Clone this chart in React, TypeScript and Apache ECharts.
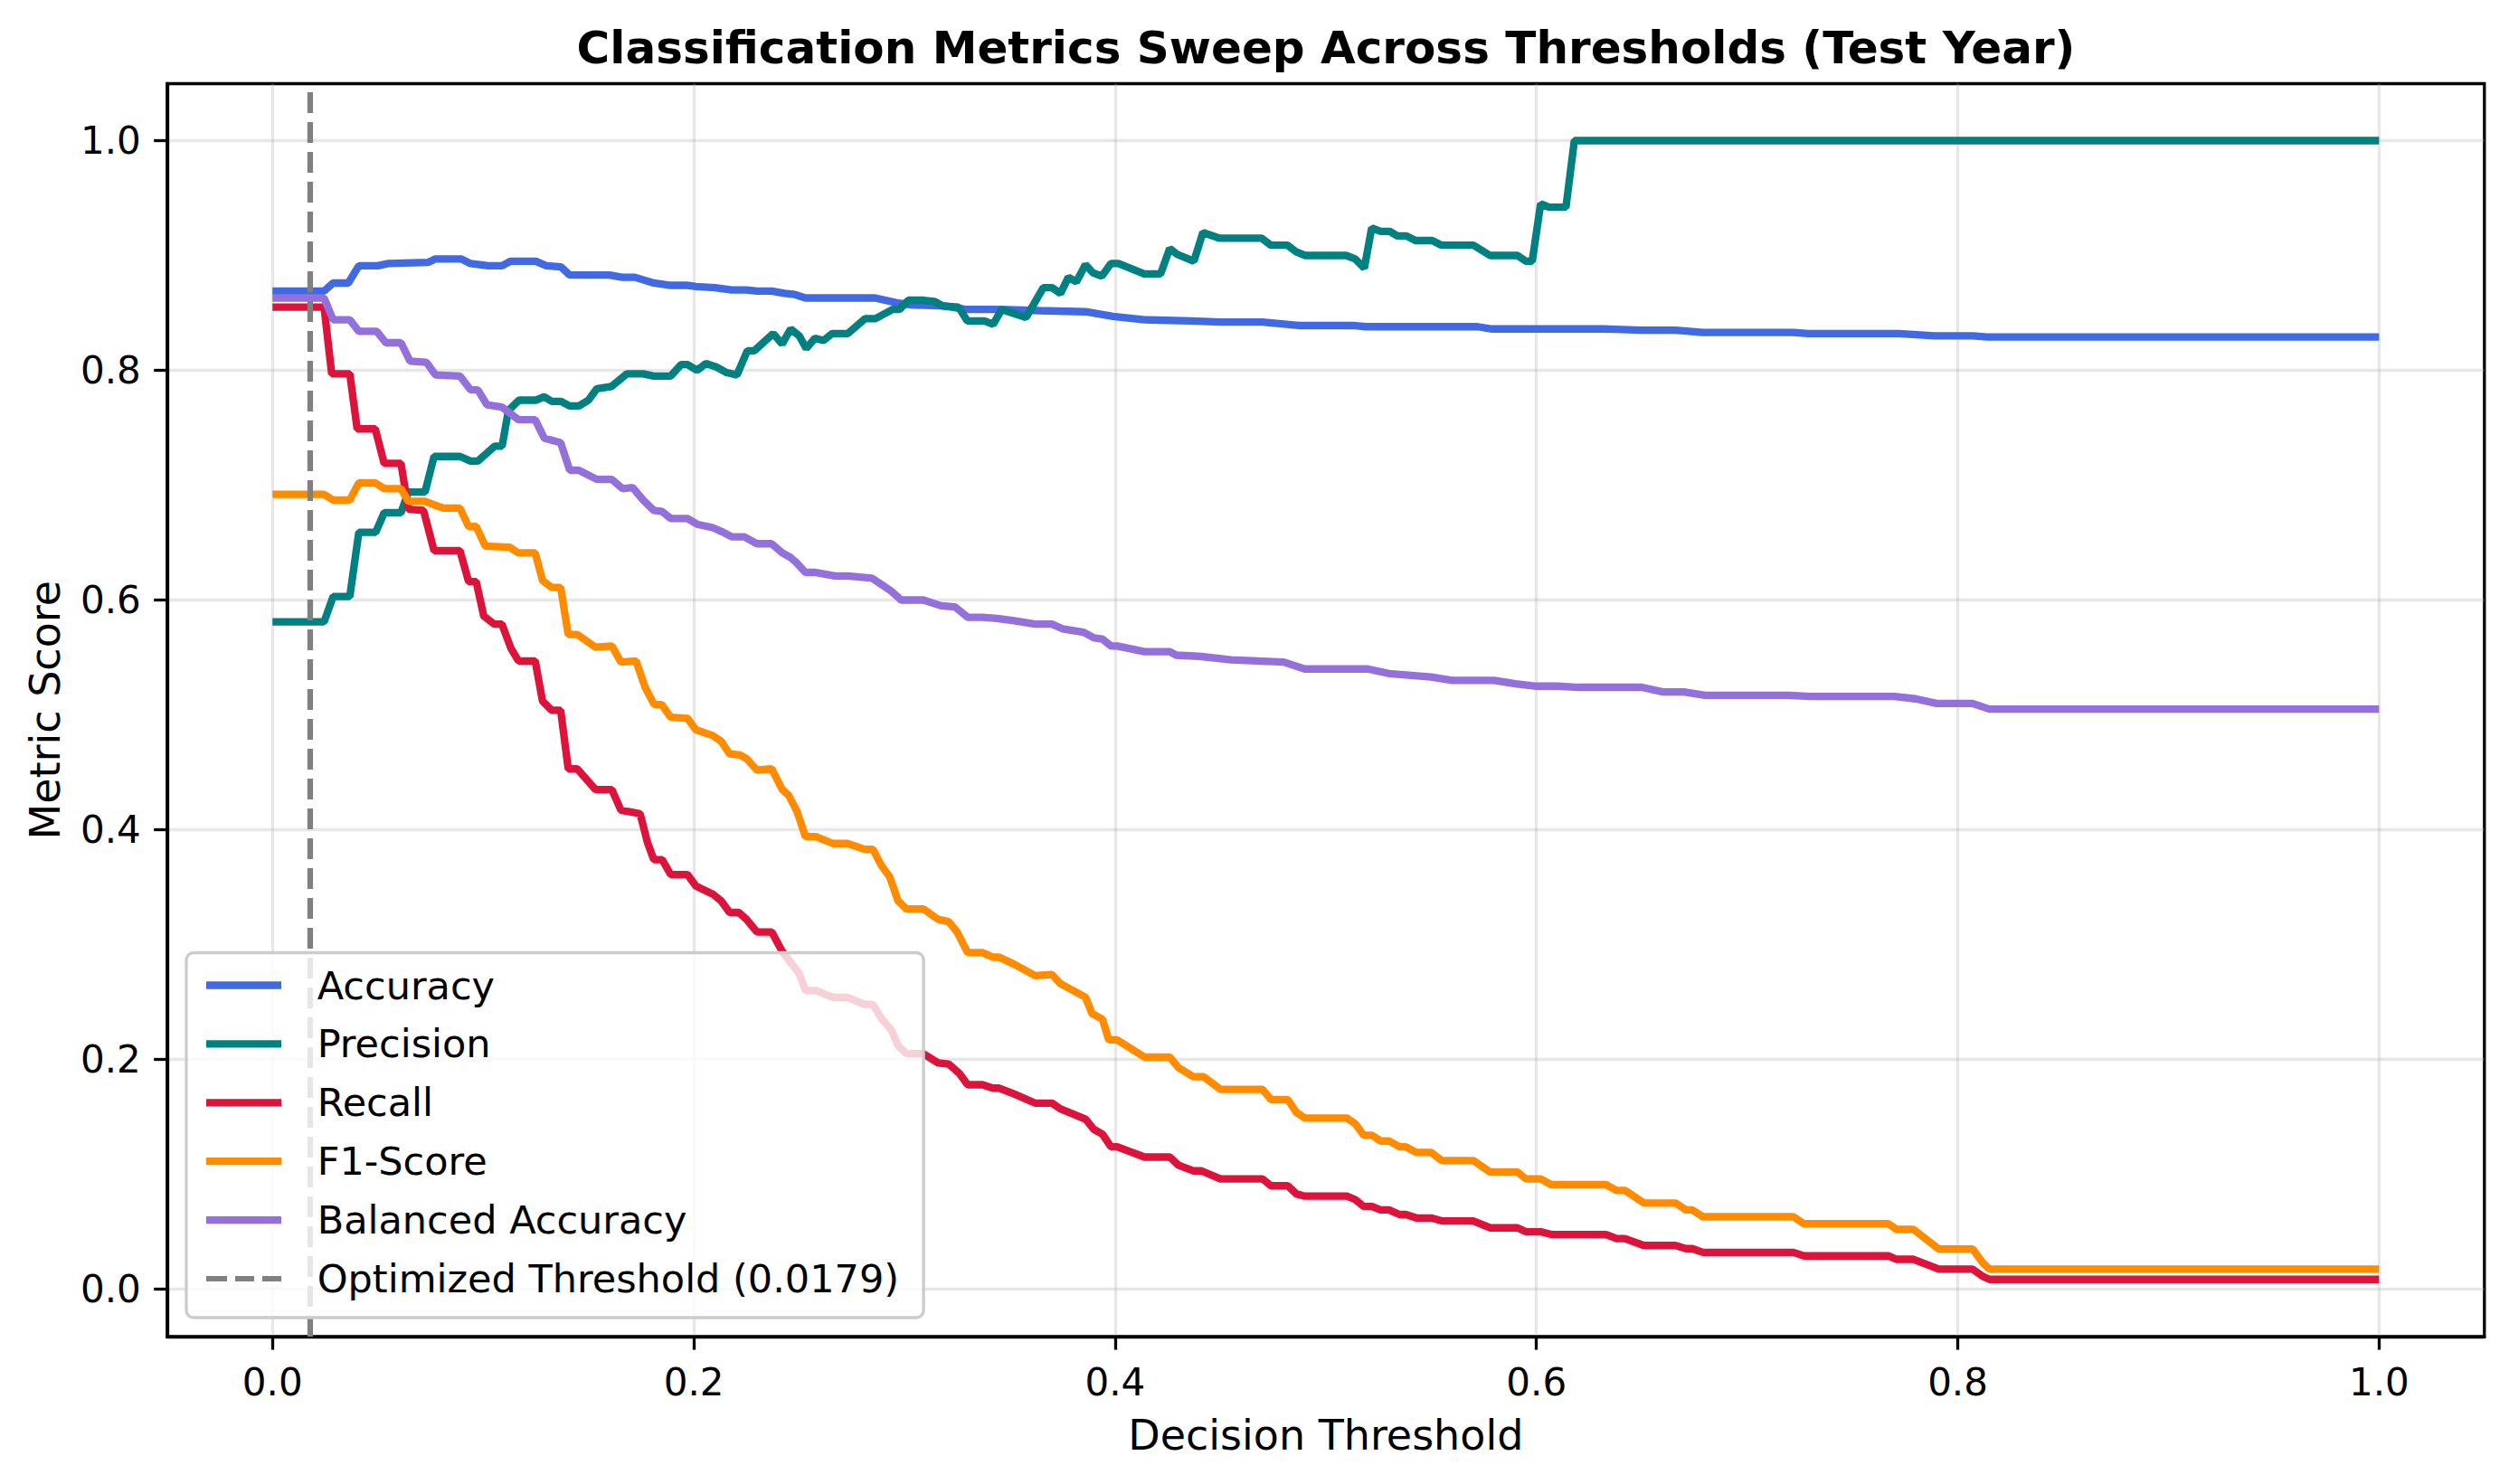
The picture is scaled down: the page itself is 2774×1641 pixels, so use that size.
import React, { useEffect, useRef } from 'react';
import * as echarts from 'echarts';

// ---- Data (threshold, score) ----
const accuracyPts: [number, number][] = [
  [0, 0.869], [0.0245, 0.869], [0.0288, 0.876], [0.036, 0.876], [0.041, 0.891], [0.05, 0.891],
  [0.055, 0.893], [0.074, 0.894], [0.0774, 0.897], [0.0895, 0.897], [0.094, 0.893], [0.1025, 0.891],
  [0.109, 0.891], [0.113, 0.895], [0.125, 0.895], [0.13, 0.891], [0.137, 0.89], [0.141, 0.883],
  [0.16, 0.883], [0.166, 0.881], [0.172, 0.881], [0.181, 0.876], [0.189, 0.874], [0.197, 0.874],
  [0.201, 0.873], [0.21, 0.872], [0.218, 0.87], [0.225, 0.87], [0.23, 0.869], [0.237, 0.869],
  [0.243, 0.867], [0.248, 0.866], [0.253, 0.863], [0.286, 0.863], [0.296, 0.859], [0.303, 0.857],
  [0.319, 0.856], [0.329, 0.853], [0.345, 0.853], [0.364, 0.852], [0.386, 0.851], [0.399, 0.847],
  [0.414, 0.844], [0.436, 0.843], [0.45, 0.842], [0.47, 0.842], [0.487, 0.839], [0.513, 0.839],
  [0.519, 0.838], [0.572, 0.838], [0.579, 0.836], [0.632, 0.836], [0.65, 0.835], [0.666, 0.835],
  [0.679, 0.833], [0.722, 0.833], [0.729, 0.832], [0.772, 0.832], [0.789, 0.83], [0.807, 0.83],
  [0.814, 0.829], [1.0, 0.829],
];

const precisionPts: [number, number][] = [
  [0, 0.581], [0.0245, 0.581], [0.0288, 0.603], [0.0367, 0.603], [0.041, 0.659], [0.049, 0.659],
  [0.053, 0.676], [0.061, 0.676], [0.0645, 0.694], [0.0724, 0.694], [0.0767, 0.725], [0.089, 0.725],
  [0.094, 0.721], [0.0975, 0.721], [0.1055, 0.734], [0.109, 0.734], [0.112, 0.765], [0.117, 0.774],
  [0.125, 0.774], [0.129, 0.777], [0.1325, 0.773], [0.137, 0.773], [0.141, 0.769], [0.1455, 0.769],
  [0.15, 0.774], [0.154, 0.784], [0.161, 0.786], [0.1683, 0.797], [0.176, 0.797], [0.181, 0.795],
  [0.189, 0.795], [0.194, 0.805], [0.197, 0.805], [0.2016, 0.8], [0.2057, 0.806], [0.2106, 0.803],
  [0.2156, 0.798], [0.2205, 0.796], [0.2254, 0.817], [0.2287, 0.817], [0.2377, 0.832], [0.2419, 0.823],
  [0.246, 0.836], [0.2501, 0.83], [0.2534, 0.819], [0.2575, 0.828], [0.2616, 0.826], [0.2657, 0.832],
  [0.2731, 0.832], [0.2813, 0.845], [0.2862, 0.845], [0.2944, 0.853], [0.2977, 0.853], [0.3018, 0.861],
  [0.3092, 0.861], [0.3142, 0.86], [0.3183, 0.856], [0.3257, 0.855], [0.3298, 0.843], [0.338, 0.843],
  [0.3421, 0.84], [0.3462, 0.853], [0.3577, 0.846], [0.3659, 0.872], [0.37, 0.872], [0.3741, 0.867],
  [0.3778, 0.881], [0.3816, 0.877], [0.3859, 0.892], [0.3894, 0.885], [0.3937, 0.882], [0.398, 0.893],
  [0.4016, 0.893], [0.4138, 0.884], [0.4216, 0.884], [0.4259, 0.906], [0.4295, 0.901], [0.4374, 0.895],
  [0.4417, 0.92], [0.4496, 0.915], [0.4696, 0.915], [0.4739, 0.909], [0.4818, 0.909], [0.4861, 0.903],
  [0.4903, 0.9], [0.5097, 0.9], [0.514, 0.897], [0.5183, 0.889], [0.5218, 0.924], [0.5261, 0.921],
  [0.5304, 0.921], [0.534, 0.917], [0.5383, 0.917], [0.5426, 0.913], [0.5505, 0.913], [0.5548, 0.909],
  [0.57, 0.909], [0.578, 0.9], [0.591, 0.9], [0.595, 0.895], [0.598, 0.895], [0.602, 0.945],
  [0.606, 0.942], [0.614, 0.942], [0.618, 1.0], [1.0, 1.0],
];

const recallPts: [number, number][] = [
  [0, 0.855], [0.0245, 0.855], [0.0281, 0.797], [0.0367, 0.797], [0.0402, 0.749], [0.0488, 0.749],
  [0.053, 0.719], [0.061, 0.719], [0.0645, 0.679], [0.0717, 0.678], [0.0767, 0.643], [0.089, 0.643],
  [0.0931, 0.616], [0.0967, 0.616], [0.1003, 0.586], [0.1053, 0.579], [0.1089, 0.579], [0.1132, 0.558],
  [0.1168, 0.547], [0.1247, 0.547], [0.1282, 0.512], [0.1325, 0.504], [0.1368, 0.504], [0.1404, 0.453],
  [0.1447, 0.453], [0.1533, 0.435], [0.1611, 0.435], [0.1654, 0.417], [0.1745, 0.414], [0.178, 0.389],
  [0.181, 0.374], [0.185, 0.374], [0.189, 0.361], [0.197, 0.361], [0.201, 0.351], [0.209, 0.344],
  [0.213, 0.338], [0.217, 0.328], [0.2213, 0.328], [0.225, 0.322], [0.23, 0.311], [0.237, 0.311],
  [0.242, 0.294], [0.247, 0.282], [0.25, 0.275], [0.253, 0.26], [0.258, 0.26], [0.266, 0.254],
  [0.273, 0.254], [0.281, 0.248], [0.285, 0.248], [0.289, 0.236], [0.294, 0.225], [0.297, 0.212],
  [0.301, 0.205], [0.309, 0.205], [0.316, 0.197], [0.321, 0.196], [0.326, 0.188], [0.33, 0.178],
  [0.337, 0.178], [0.342, 0.175], [0.345, 0.175], [0.352, 0.17], [0.362, 0.162], [0.37, 0.162],
  [0.374, 0.157], [0.386, 0.148], [0.39, 0.139], [0.394, 0.135], [0.398, 0.124], [0.401, 0.124],
  [0.414, 0.115], [0.426, 0.115], [0.43, 0.108], [0.437, 0.103], [0.441, 0.103], [0.45, 0.096],
  [0.47, 0.096], [0.474, 0.09], [0.482, 0.09], [0.486, 0.083], [0.49, 0.081], [0.51, 0.081],
  [0.514, 0.078], [0.518, 0.072], [0.522, 0.072], [0.526, 0.069], [0.53, 0.069], [0.535, 0.065],
  [0.538, 0.065], [0.543, 0.062], [0.55, 0.062], [0.555, 0.0595], [0.57, 0.0594], [0.578, 0.0534],
  [0.591, 0.0534], [0.595, 0.05], [0.602, 0.05], [0.607, 0.0476], [0.633, 0.0476], [0.638, 0.044],
  [0.642, 0.044], [0.651, 0.038], [0.666, 0.038], [0.671, 0.0353], [0.674, 0.0353], [0.679, 0.032],
  [0.722, 0.032], [0.727, 0.029], [0.767, 0.029], [0.771, 0.026], [0.779, 0.026], [0.791, 0.0175],
  [0.807, 0.0175], [0.812, 0.011], [0.815, 0.0085], [1.0, 0.0085],
];

const f1Pts: [number, number][] = [
  [0, 0.692], [0.0245, 0.692], [0.0288, 0.687], [0.0367, 0.687], [0.041, 0.702], [0.0488, 0.702],
  [0.053, 0.697], [0.061, 0.697], [0.0645, 0.686], [0.0724, 0.686], [0.081, 0.68], [0.089, 0.68],
  [0.0931, 0.664], [0.0967, 0.664], [0.101, 0.647], [0.1125, 0.646], [0.1168, 0.641], [0.1247, 0.641],
  [0.1282, 0.617], [0.1325, 0.611], [0.1368, 0.611], [0.1404, 0.57], [0.1447, 0.57], [0.1533, 0.559],
  [0.1611, 0.56], [0.1654, 0.546], [0.1726, 0.547], [0.1769, 0.524], [0.1812, 0.509], [0.1848, 0.509],
  [0.189, 0.498], [0.197, 0.497], [0.201, 0.487], [0.209, 0.482], [0.213, 0.477], [0.217, 0.466],
  [0.222, 0.465], [0.225, 0.462], [0.23, 0.452], [0.237, 0.453], [0.242, 0.435], [0.245, 0.43],
  [0.249, 0.416], [0.253, 0.394], [0.258, 0.394], [0.266, 0.388], [0.273, 0.388], [0.281, 0.383],
  [0.285, 0.383], [0.289, 0.369], [0.293, 0.359], [0.297, 0.338], [0.301, 0.331], [0.309, 0.331],
  [0.316, 0.322], [0.321, 0.32], [0.325, 0.311], [0.33, 0.293], [0.337, 0.293], [0.342, 0.289],
  [0.345, 0.289], [0.352, 0.283], [0.362, 0.273], [0.37, 0.274], [0.374, 0.266], [0.386, 0.254],
  [0.389, 0.24], [0.394, 0.235], [0.397, 0.217], [0.401, 0.217], [0.414, 0.202], [0.426, 0.202],
  [0.43, 0.193], [0.437, 0.185], [0.442, 0.185], [0.45, 0.174], [0.47, 0.174], [0.474, 0.165],
  [0.482, 0.165], [0.486, 0.154], [0.49, 0.149], [0.51, 0.149], [0.514, 0.144], [0.518, 0.134],
  [0.522, 0.134], [0.526, 0.129], [0.53, 0.129], [0.535, 0.124], [0.538, 0.124], [0.543, 0.119],
  [0.55, 0.119], [0.555, 0.112], [0.57, 0.112], [0.578, 0.102], [0.591, 0.102], [0.595, 0.096],
  [0.602, 0.096], [0.607, 0.091], [0.633, 0.091], [0.638, 0.086], [0.642, 0.086], [0.651, 0.075],
  [0.666, 0.075], [0.671, 0.069], [0.674, 0.069], [0.679, 0.063], [0.722, 0.063], [0.727, 0.057],
  [0.767, 0.057], [0.771, 0.052], [0.779, 0.052], [0.791, 0.035], [0.807, 0.035], [0.812, 0.0227],
  [0.815, 0.0175], [1.0, 0.0175],
];

const balancedPts: [number, number][] = [
  [0, 0.863], [0.0245, 0.863], [0.0288, 0.844], [0.0367, 0.844], [0.041, 0.834], [0.0495, 0.834],
  [0.0538, 0.824], [0.061, 0.824], [0.0653, 0.808], [0.0731, 0.807], [0.0774, 0.796], [0.089, 0.795],
  [0.094, 0.783], [0.0975, 0.783], [0.1018, 0.77], [0.1089, 0.768], [0.1168, 0.757], [0.1247, 0.757],
  [0.129, 0.741], [0.1368, 0.737], [0.1411, 0.713], [0.1454, 0.713], [0.154, 0.705], [0.1611, 0.705],
  [0.1662, 0.697], [0.171, 0.698], [0.176, 0.687], [0.181, 0.678], [0.185, 0.677], [0.189, 0.671],
  [0.197, 0.671], [0.2016, 0.666], [0.209, 0.663], [0.214, 0.659], [0.218, 0.655], [0.224, 0.655],
  [0.23, 0.649], [0.237, 0.649], [0.242, 0.641], [0.246, 0.637], [0.2485, 0.633], [0.253, 0.624],
  [0.258, 0.624], [0.267, 0.621], [0.273, 0.621], [0.2846, 0.619], [0.2895, 0.613], [0.2936, 0.608],
  [0.2985, 0.6], [0.309, 0.6], [0.3174, 0.595], [0.324, 0.594], [0.33, 0.585], [0.337, 0.585],
  [0.344, 0.584], [0.352, 0.582], [0.362, 0.579], [0.37, 0.579], [0.375, 0.575], [0.385, 0.572],
  [0.39, 0.567], [0.394, 0.566], [0.398, 0.56], [0.401, 0.56], [0.414, 0.555], [0.426, 0.555],
  [0.429, 0.552], [0.44, 0.551], [0.455, 0.548], [0.48, 0.546], [0.49, 0.54], [0.52, 0.54],
  [0.53, 0.536], [0.55, 0.533], [0.56, 0.53], [0.58, 0.53], [0.59, 0.527], [0.6, 0.525],
  [0.61, 0.525], [0.62, 0.524], [0.65, 0.524], [0.66, 0.52], [0.67, 0.52], [0.68, 0.517],
  [0.72, 0.517], [0.73, 0.516], [0.77, 0.516], [0.78, 0.514], [0.79, 0.51], [0.807, 0.51],
  [0.815, 0.505], [1.0, 0.505],
];

const optimizedThreshold = 0.0179;
const seriesNames = ['Accuracy', 'Precision', 'Recall', 'F1-Score', 'Balanced Accuracy'];
const seriesColors = ['#4169E1', '#008080', '#DC143C', '#FF8C00', '#9370DB'];
const thresholdLabel = 'Optimized Threshold (0.0179)';
const xTicks = [0, 0.2, 0.4, 0.6, 0.8, 1.0];
const yTicks = [0, 0.2, 0.4, 0.6, 0.8, 1.0];
const titleText = 'Classification Metrics Sweep Across Thresholds (Test Year)';
const xAxisLabel = 'Decision Threshold';
const yAxisLabel = 'Metric Score';

const X_MIN = -0.05;
const X_MAX = 1.05;
const Y_MIN = -0.0413;
const Y_MAX = 1.0496;

const FONT = 'DejaVu Sans';

export default function App() {
  const ref = useRef<HTMLDivElement | null>(null);

  useEffect(() => {
    document.body.style.margin = '0';
    if (!ref.current) return;
    const chart = echarts.init(ref.current, undefined, { renderer: 'svg' });
    const allData = [accuracyPts, precisionPts, recallPts, f1Pts, balancedPts];

    const lineSeries: any[] = allData.map((pts, i) => ({
      name: seriesNames[i],
      type: 'line',
      data: pts,
      symbol: 'none',
      showSymbol: false,
      color: seriesColors[i],
      itemStyle: { color: seriesColors[i] },
      lineStyle: { width: 8.33, color: seriesColors[i] },
      z: 2,
      silent: true,
    }));

    lineSeries.push({
      name: thresholdLabel,
      type: 'line',
      data: [[optimizedThreshold, Y_MIN], [optimizedThreshold, Y_MAX]],
      symbol: 'none',
      showSymbol: false,
      color: '#808080',
      itemStyle: { color: '#808080' },
      lineStyle: { width: 6.25, color: '#808080', type: [23, 10] },
      z: 3,
      silent: true,
    });

    const legendData = [
      ...seriesNames.map((n) => ({ name: n, icon: 'rect' })),
      { name: thresholdLabel, icon: 'path://M0,0H23V6H0Z M32,0H53V6H32Z M62,0H83V6H62Z' },
    ];

    const option: any = {
      animation: false,
      backgroundColor: '#ffffff',
      textStyle: { fontFamily: FONT },
      grid: {
        left: 184.8,
        right: 27.2,
        top: 92.5,
        bottom: 163,
        show: true,
        borderColor: '#000000',
        borderWidth: 3.3,
        backgroundColor: 'transparent',
        containLabel: false,
      },
      xAxis: {
        type: 'value',
        min: X_MIN,
        max: X_MAX,
        name: xAxisLabel,
        nameLocation: 'middle',
        nameGap: 86,
        nameTextStyle: { fontSize: 46, color: '#000', fontFamily: FONT },
        axisLine: { show: true, onZero: false, lineStyle: { color: '#000', width: 3.3 } },
        axisTick: { show: true, length: 14.6, customValues: xTicks, lineStyle: { color: '#000', width: 3.3 } },
        axisLabel: {
          show: true,
          customValues: xTicks,
          margin: 29,
          fontSize: 42,
          color: '#000',
          fontFamily: FONT,
          formatter: (v: number) => v.toFixed(1),
        },
        splitLine: { show: true, lineStyle: { color: '#b0b0b0', opacity: 0.3, width: 3.3 } },
      },
      yAxis: {
        type: 'value',
        min: Y_MIN,
        max: Y_MAX,
        name: yAxisLabel,
        nameLocation: 'middle',
        nameGap: 112,
        nameTextStyle: { fontSize: 46, color: '#000', fontFamily: FONT },
        axisLine: { show: true, onZero: false, lineStyle: { color: '#000', width: 3.3 } },
        axisTick: { show: true, length: 14.6, customValues: yTicks, lineStyle: { color: '#000', width: 3.3 } },
        axisLabel: {
          show: true,
          customValues: yTicks,
          margin: 29,
          fontSize: 42,
          color: '#000',
          fontFamily: FONT,
          formatter: (v: number) => v.toFixed(1),
        },
        splitLine: { show: true, lineStyle: { color: '#b0b0b0', opacity: 0.3, width: 3.3 } },
      },
      legend: {
        orient: 'vertical',
        left: 206,
        top: 1053.5,
        padding: [14, 27, 21, 22],
        itemWidth: 83,
        itemHeight: 8.33,
        itemGap: 20.9,
        backgroundColor: 'rgba(255,255,255,0.8)',
        borderColor: '#cccccc',
        borderWidth: 3.3,
        borderRadius: 8,
        selectedMode: false,
        itemStyle: { borderWidth: 0 },
        textStyle: { fontSize: 43, color: '#000', fontFamily: FONT, lineHeight: 44, padding: [0, 0, 0, 34.7] },
        data: legendData,
        z: 10,
      },
      graphic: [
        {
          type: 'text',
          x: 1466,
          y: 53,
          style: {
            text: titleText,
            fill: '#000',
            fontSize: 50,
            fontWeight: 'bold',
            fontFamily: FONT,
            textAlign: 'center',
            textVerticalAlign: 'middle',
          },
        },
      ],
      series: lineSeries,
    };

    chart.setOption(option);
    return () => {
      chart.dispose();
    };
  }, []);

  return <div ref={ref} style={{ width: 2774, height: 1641 }} />;
}
